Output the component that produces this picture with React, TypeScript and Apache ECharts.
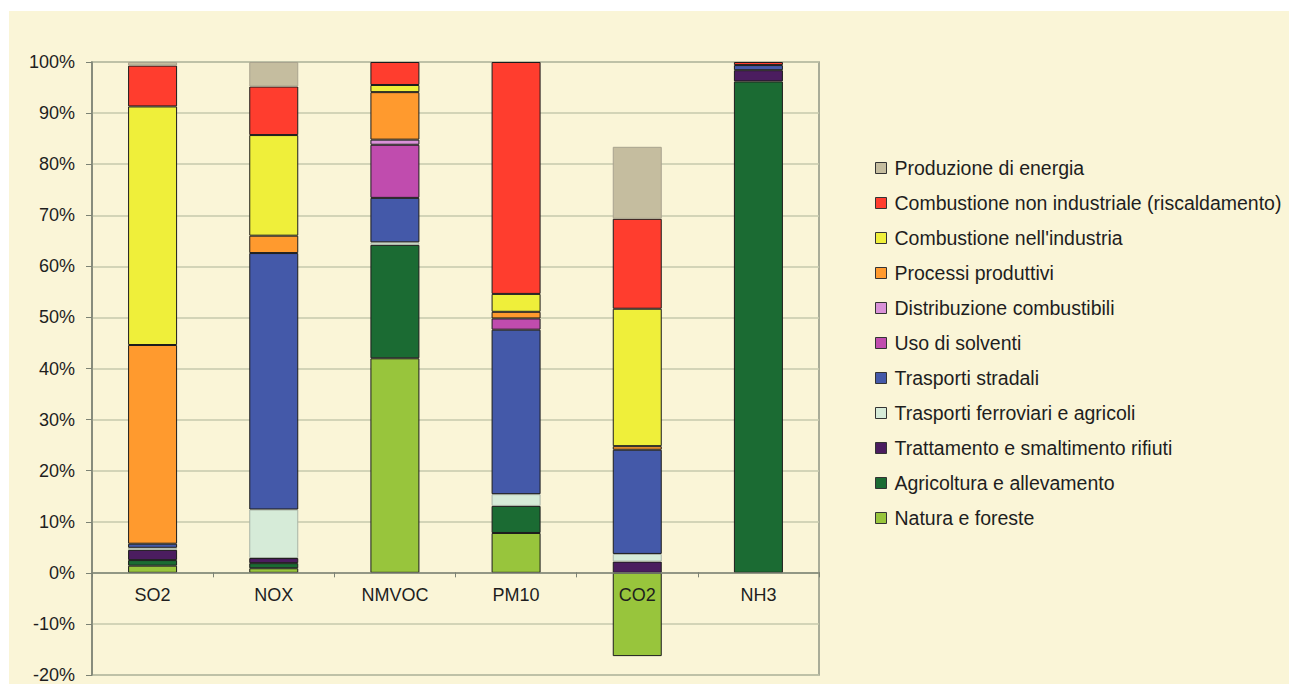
import React, { useEffect, useRef } from "react";
import * as echarts from "echarts";

const categories = ["SO2", "NOX", "NMVOC", "PM10", "CO2", "NH3"];

// Series listed bottom of stack to top
const seriesNames = [
  "Natura e foreste",
  "Agricoltura e allevamento",
  "Trattamento e smaltimento rifiuti",
  "Trasporti ferroviari e agricoli",
  "Trasporti stradali",
  "Uso di solventi",
  "Distribuzione combustibili",
  "Processi produttivi",
  "Combustione nell'industria",
  "Combustione non industriale (riscaldamento)",
  "Produzione di energia",
];

const natura = [1.4, 0.9, 42.0, 7.8, -16.3, null];
const agricoltura = [1.1, 1.0, 22.2, 5.3, null, 96.2];
const trattamento = [2.0, 1.0, null, null, 2.2, 2.2];
const ferroviari = [0.4, 9.5, 0.5, 2.3, 1.5, null];
const stradali = [0.8, 50.2, 8.7, 32.2, 20.4, 1.0];
const solventi = [null, null, 10.4, 2.2, null, null];
const distribuzione = [null, null, 1.0, null, null, null];
const processi = [38.9, 3.4, 9.3, 1.3, 0.7, null];
const industria = [46.7, 19.7, 1.4, 3.5, 26.9, null];
const nonIndustriale = [8.0, 9.5, 4.5, 45.4, 17.6, 0.6];
const energia = [0.7, 4.8, null, null, 14.1, null];

const seriesValues = [
  natura,
  agricoltura,
  trattamento,
  ferroviari,
  stradali,
  solventi,
  distribuzione,
  processi,
  industria,
  nonIndustriale,
  energia,
];

const seriesColors = [
  "#98C53C",
  "#1B6B33",
  "#4B1D5F",
  "#D6EBD8",
  "#4459A9",
  "#C04CAE",
  "#D991D8",
  "#FF9A2E",
  "#EFEF3A",
  "#FF3D2E",
  "#C5BD9F",
];

const seriesBorders = [
  "#1c1c1c",
  "#1c1c1c",
  "#1c1c1c",
  "#A9B3A6",
  "#1c1c1c",
  "#1c1c1c",
  "#1c1c1c",
  "#1c1c1c",
  "#1c1c1c",
  "#1c1c1c",
  "#A8A38E",
];

const yTicks = { min: -20, max: 100, interval: 10 };

const FONT = "'Liberation Sans', Arial, sans-serif";
const CREAM = "#FAF5D7";

const GRID_H = 616;

export default function App() {
  const ref = useRef<HTMLDivElement>(null);

  useEffect(() => {
    if (!ref.current) return;
    const chart = echarts.init(ref.current, undefined, { renderer: "svg" });
    const legendOrder = [...seriesNames].reverse();
    // distance of the zero line from the bottom of the grid
    const zeroOffset = ((0 - yTicks.min) / (yTicks.max - yTicks.min)) * GRID_H;
    chart.setOption({
      animation: false,
      backgroundColor: "transparent",
      textStyle: { fontFamily: FONT },
      grid: {
        left: 83,
        top: 51,
        width: 727,
        height: GRID_H,
        show: true,
        backgroundColor: "transparent",
        borderColor: "#8E9484",
        borderWidth: 1.5,
        containLabel: false,
      },
      legend: {
        orient: "vertical",
        left: 861,
        top: 142,
        data: legendOrder,
        itemWidth: 11,
        itemHeight: 11,
        itemGap: 15,
        icon: "rect",
        itemStyle: { borderColor: "#333", borderWidth: 1 },
        textStyle: {
          fontFamily: FONT,
          fontSize: 19.5,
          color: "#1e1e1e",
          padding: [0, 0, 0, 3],
        },
      },
      xAxis: {
        type: "category",
        data: categories,
        position: "bottom",
        offset: -zeroOffset,
        z: 10,
        axisLine: { onZero: false, lineStyle: { color: "#7C8274", width: 1.5 } },
        axisTick: { show: true, length: 5, alignWithLabel: false, lineStyle: { color: "#7C8274" } },
        axisLabel: { fontFamily: FONT, fontSize: 18, color: "#1e1e1e", margin: 14 },
        splitLine: { show: false },
      },
      yAxis: {
        type: "value",
        min: yTicks.min,
        max: yTicks.max,
        interval: yTicks.interval,
        axisLine: { show: true, lineStyle: { color: "#7C8274", width: 1.5 } },
        axisTick: { show: true, length: 6, lineStyle: { color: "#7C8274" } },
        axisLabel: {
          fontFamily: FONT,
          fontSize: 18,
          color: "#1e1e1e",
          margin: 17,
          formatter: "{value}%",
        },
        splitLine: { show: true, lineStyle: { color: "#C6C9AC", width: 1.5 } },
      },
      series: seriesNames.map((name, i) => ({
        name,
        type: "bar",
        stack: "total",
        barWidth: 49,
        data: seriesValues[i],
        itemStyle: {
          color: seriesColors[i],
          borderColor: seriesBorders[i],
          borderWidth: 1,
        },
      })),
    });
    return () => chart.dispose();
  }, []);

  return (
    <div
      style={{
        position: "absolute",
        left: 0,
        top: 0,
        width: 1289,
        height: 684,
        background: "#ffffff",
        overflow: "hidden",
      }}
    >
      <div
        style={{
          position: "absolute",
          left: 9,
          top: 11,
          width: 1280,
          height: 673,
          background: CREAM,
        }}
      >
        <div ref={ref} style={{ width: 1280, height: 673 }} />
      </div>
    </div>
  );
}
